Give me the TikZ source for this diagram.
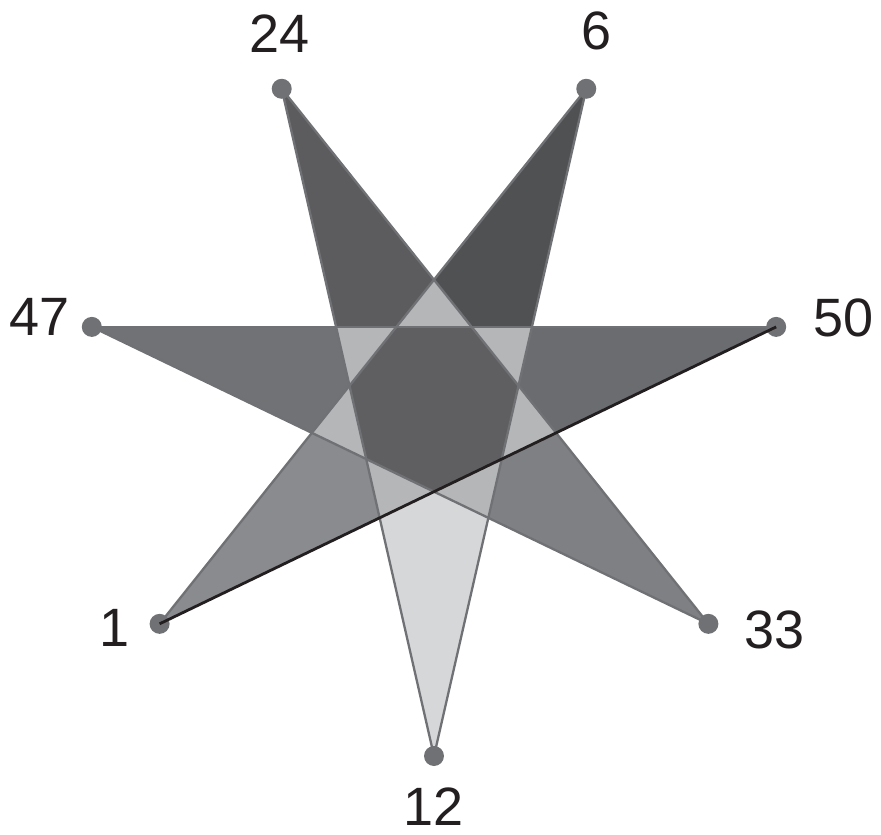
\documentclass[tikz,border=0pt]{standalone}
\usepackage{fontspec}
\setmainfont{Liberation Sans}
\usetikzlibrary{calc}
\usepackage{xcolor}
\definecolor{edgegrey}{HTML}{707174}
\definecolor{inkblack}{HTML}{231F20}
\definecolor{tri}{HTML}{B5B6B8}
\definecolor{core}{HTML}{5F5F61}
\definecolor{shade24}{HTML}{5C5C5E}
\definecolor{shade6}{HTML}{505153}
\definecolor{shade50}{HTML}{6B6C6F}
\definecolor{shade33}{HTML}{7F8083}
\definecolor{shade12}{HTML}{D6D7D9}
\definecolor{shade1}{HTML}{8A8B8E}
\definecolor{shade47}{HTML}{717275}

\begin{document}
\begin{tikzpicture}[
    x=1pt, y=1pt,
    font=\fontsize{54}{60}\selectfont,
    edge/.style={draw=edgegrey, line width=2.3pt, line join=round},
    chord/.style={draw=inkblack, line width=2.8pt},
    dot/.style={circle, fill=edgegrey, inner sep=0pt, minimum size=20pt},
    num/.style={text=inkblack, inner sep=0pt}]
  \useasboundingbox (-434,-430) rectangle (447,405);
  %% Star points, clockwise from 24
  \foreach \i in {0,...,6}
    \coordinate (v\i) at ({90+180/7-\i*360/7}:351);
  %% Crossings: outer (o) and inner heptagon (m)
  \foreach \i in {0,...,6} {
    \pgfmathtruncatemacro{\pa}{mod(\i+1,7)}
    \pgfmathtruncatemacro{\pb}{mod(\i+2,7)}
    \pgfmathtruncatemacro{\pc}{mod(\i+3,7)}
    \pgfmathtruncatemacro{\pd}{mod(\i+5,7)}
    \pgfmathtruncatemacro{\pe}{mod(\i+6,7)}
    \coordinate (o\i) at (intersection cs: first line={(v\i)--(v\pc)}, second line={(v\pd)--(v\pa)});
    \coordinate (m\i) at (intersection cs: first line={(v\pd)--(v\pa)}, second line={(v\pe)--(v\pb)});
  }
  %% Tips
  \foreach \i/\c in {0/shade24,1/shade6,2/shade50,3/shade33,4/shade12,5/shade1,6/shade47} {
    \pgfmathtruncatemacro{\pz}{mod(\i+6,7)}
    \fill[\c] (v\i) -- (o\i) -- (m\i) -- (o\pz) -- cycle;
  }
  %% Small triangles round the centre
  \foreach \i in {0,...,6} {
    \pgfmathtruncatemacro{\pa}{mod(\i+1,7)}
    \fill[tri] (o\i) -- (m\i) -- (m\pa) -- cycle;
  }
  %% Centre heptagon
  \fill[core] (m0) -- (m1) -- (m2) -- (m3) -- (m4) -- (m5) -- (m6) -- cycle;
  %% Star edges
  \foreach \a/\b in {v0/v3,v1/v4,v3/v6,v4/v0,v5/v1,v6/v2}
    \draw[edge] (\a) -- (\b);
  \foreach \i in {0,...,6}
    \node[dot] (d\i) at (v\i) {};
  \draw[chord] (v2) -- (v5);
  %% Numbers
  \node[num] (n24) at (-154,371) {24};
  \node[num] (n6)  at (163,374)  {6};
  \node[num] (n50) at (410,87)   {50};
  \node[num] (n33) at (341,-225) {33};
  \node[num] (n12) at (0,-402)   {12};
  \node[num] (n1)  at (-319,-223) {1};
  \node[num] (n47) at (-394,88)  {47};
\end{tikzpicture}
\end{document}
